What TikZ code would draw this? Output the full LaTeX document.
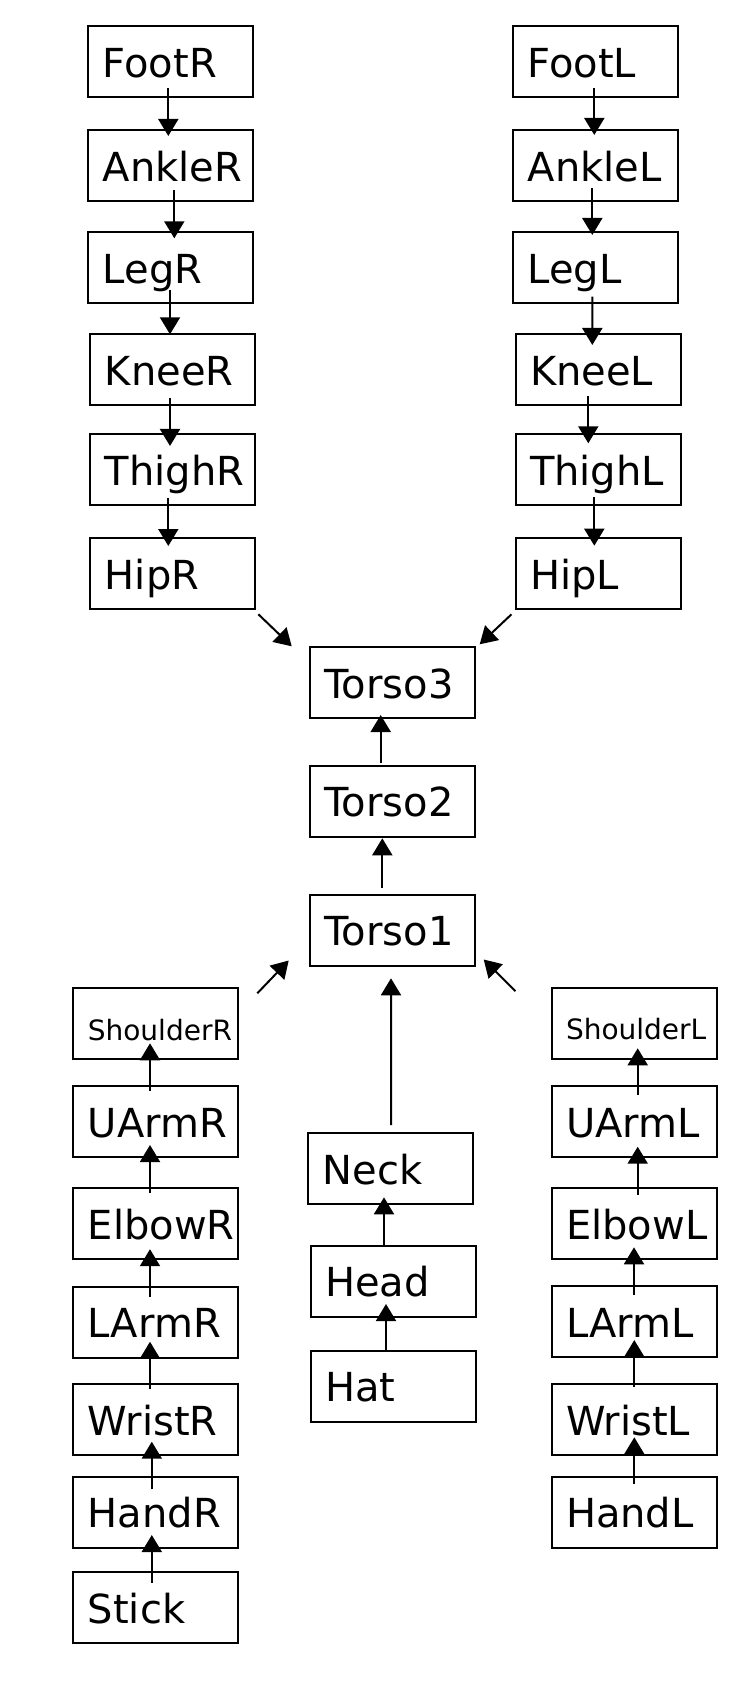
\documentclass[tikz,border=0pt]{standalone}
\usepackage{fontspec}
\setmainfont{DejaVu Sans}
\usetikzlibrary{arrows.meta}
\hyphenpenalty=10000
\exhyphenpenalty=10000

\begin{document}
\begin{tikzpicture}[x=0.5pt, y=-0.5pt,
  box/.style={draw, line width=1pt, text width=68pt, align=left, inner xsep=7.25pt, inner ysep=0pt, minimum height=35.5pt, text height=15.7pt, text depth=0pt, font=\fontsize{20}{24}\selectfont},
  small/.style={font=\fontsize{14}{17}\selectfont, text height=16.2pt},
  arr/.style={-{Triangle[length=8.5pt, width=10pt]}, line width=1pt}
]
\useasboundingbox (0,0) rectangle (745,1700);

% right leg
\node[box] (footR) at (170.8,61.7) {FootR};
\node[box] (ankleR) at (170.8,165.5) {AnkleR};
\node[box] (legR) at (170.8,267.5) {LegR};
\node[box] (kneeR) at (172.9,369.7) {KneeR};
\node[box] (thighR) at (172.9,469.7) {ThighR};
\node[box] (hipR) at (172.9,573.8) {HipR};

% left leg
\node[box] (footL) at (595.7,61.7) {FootL};
\node[box] (ankleL) at (595.7,165.5) {AnkleL};
\node[box] (legL) at (595.7,267.8) {LegL};
\node[box] (kneeL) at (598,369.7) {KneeL};
\node[box] (thighL) at (598,469.7) {ThighL};
\node[box] (hipL) at (598,573.8) {HipL};

% torso and head
\node[box] (torso3) at (392.2,682.8) {Torso3};
\node[box] (torso2) at (392.2,801.2) {Torso2};
\node[box] (torso1) at (392.2,930) {Torso1};
\node[box] (neck) at (390.8,1168.7) {Neck};
\node[box] (head) at (393.2,1281.2) {Head};
\node[box] (hat) at (393.2,1386.2) {Hat};

% right arm
\node[box, small] (shoulderR) at (155.8,1023.8) {ShoulderR};
\node[box] (uarmR) at (155.8,1121.7) {UArmR};
\node[box] (elbowR) at (155.8,1223.7) {ElbowR};
\node[box] (larmR) at (155.8,1322) {LArmR};
\node[box] (wristR) at (155.8,1419.7) {WristR};
\node[box] (handR) at (155.8,1512) {HandR};
\node[box] (stick) at (155.8,1607.8) {Stick};

% left arm
\node[box, small] (shoulderL) at (634,1023.7) {ShoulderL};
\node[box] (uarmL) at (634,1121.7) {UArmL};
\node[box] (elbowL) at (634,1223.7) {ElbowL};
\node[box] (larmL) at (634,1321.7) {LArmL};
\node[box] (wristL) at (634,1419.7) {WristL};
\node[box] (handL) at (634,1512) {HandL};

% legs, downwards
\draw[arr] ([shift={(-2.5,-10.2)}]footR.south) -- ([shift={(-2.5,7)}]ankleR.north);
\draw[arr] ([shift={(3.5,-12)}]ankleR.south) -- ([shift={(3.5,7.3)}]legR.north);
\draw[arr] ([shift={(-0.8,-14)}]legR.south) -- ([shift={(-2.9,1.1)}]kneeR.north);
\draw[arr] ([shift={(-2.9,-7.9)}]kneeR.south) -- ([shift={(-2.9,12.8)}]thighR.north);
\draw[arr] ([shift={(-4.6,-7.9)}]thighR.south) -- ([shift={(-4.6,8.7)}]hipR.north);

\draw[arr] ([shift={(-1.4,-9.9)}]footL.south) -- ([shift={(-1.4,6)}]ankleL.north);
\draw[arr] ([shift={(-3.4,-13.7)}]ankleL.south) -- ([shift={(-3.4,3.7)}]legL.north);
\draw[arr] ([shift={(-3.4,-7.6)}]legL.south) -- ([shift={(-5.7,11.8)}]kneeL.north);
\draw[arr] ([shift={(-9.7,-10.2)}]kneeL.south) -- ([shift={(-9.7,10.1)}]thighL.north);
\draw[arr] ([shift={(-3.7,-8.9)}]thighL.south) -- ([shift={(-3.7,8.4)}]hipL.north);

\draw[arr] ([shift={(2,4)}]hipR.south east) -- ([shift={(-17,0)}]torso3.north west);
\draw[arr] ([shift={(-3,4)}]hipL.south west) -- ([shift={(4,-2)}]torso3.north east);

% torso and head, upwards
\draw[arr] ([shift={(-11.5,-1.4)}]torso2.north) -- ([shift={(-11.5,-4.3)}]torso3.south);
\draw[arr] ([shift={(-9.9,-5.8)}]torso1.north) -- ([shift={(-9.9,0.6)}]torso2.south);
\draw[arr] ([shift={(0.2,-7.2)}]neck.north) -- ([shift={(-1.2,11.8)}]torso1.south);
\draw[arr] ([shift={(-9.2,0.3)}]head.north) -- ([shift={(-6.8,-7.9)}]neck.south);
\draw[arr] ([shift={(-7.2,0.3)}]hat.north) -- ([shift={(-7.2,-13.7)}]head.south);

\draw[arr] ([shift={(18,6)}]shoulderR.north east) -- ([shift={(-20,-6)}]torso1.south west);
\draw[arr] ([shift={(-35,4)}]shoulderL.north west) -- ([shift={(8,-7)}]torso1.south east);

% arms, upwards
\draw[arr] ([shift={(-5.8,5.5)}]uarmR.north) -- ([shift={(-5.8,-17)}]shoulderR.south);
\draw[arr] ([shift={(-5.8,5.8)}]elbowR.north) -- ([shift={(-5.8,-13.2)}]uarmR.south);
\draw[arr] ([shift={(-5.8,11)}]larmR.north) -- ([shift={(-5.8,-11)}]elbowR.south);
\draw[arr] ([shift={(-5.8,6.1)}]wristR.north) -- ([shift={(-5.8,-16.8)}]larmR.south);
\draw[arr] ([shift={(-4,13.8)}]handR.north) -- ([shift={(-4,-14.5)}]wristR.south);
\draw[arr] ([shift={(-4,11.4)}]stick.north) -- ([shift={(-4,-13.5)}]handR.south);

\draw[arr] ([shift={(3.7,9.8)}]uarmL.north) -- ([shift={(3.7,-11.9)}]shoulderL.south);
\draw[arr] ([shift={(3.7,7.8)}]elbowL.north) -- ([shift={(3.7,-11.5)}]uarmL.south);
\draw[arr] ([shift={(0,9.8)}]larmL.north) -- ([shift={(0,-12.9)}]elbowL.south);
\draw[arr] ([shift={(0.3,3.5)}]wristL.north) -- ([shift={(0.3,-18.2)}]larmL.south);
\draw[arr] ([shift={(0.3,8.5)}]handL.north) -- ([shift={(0.3,-18.9)}]wristL.south);
\end{tikzpicture}
\end{document}
